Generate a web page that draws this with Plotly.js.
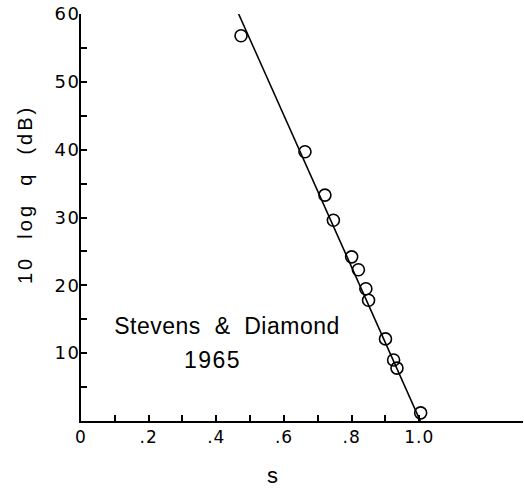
<!DOCTYPE html>
<html>
<head>
<meta charset="utf-8">
<script src="https://cdn.plot.ly/plotly-3.0.1.min.js"></script>
<style>
html,body{margin:0;padding:0;background:#fff;}
#chart{width:524px;height:491px;}
#chart .xtick text{letter-spacing:1px;}
#chart .ytick text{letter-spacing:1.5px;}
</style>
</head>
<body>
<div id="chart"></div>
<script>
// Data (Stevens & Diamond 1965)
var sValues = [0.473, 0.662, 0.721, 0.746, 0.800, 0.820, 0.842, 0.850, 0.900, 0.924, 0.934, 1.004];
var dbValues = [56.8, 39.7, 33.3, 29.6, 24.2, 22.3, 19.5, 17.8, 12.1, 9.0, 7.8, 1.2];
// Fitted line end points
var fitS = [0.466, 1.003];
var fitDb = [60, 0];
// Tick values and labels
var xTickVals = [0, 0.1, 0.2, 0.3, 0.4, 0.5, 0.6, 0.7, 0.8, 0.9, 1.0];
var xTickText = ['0', '', '.2', '', '.4', '', '.6', '', '.8', '', '1.0'];
var yTickVals = [0, 5, 10, 15, 20, 25, 30, 35, 40, 45, 50, 55, 60];
var yTickText = ['', '', '10', '', '20', '', '30', '', '40', '', '50', '', '60'];
var labelLines = ['Stevens  &  Diamond', '1965'];
var labelX = [0.433, 0.389];
var labelY = [14.0, 9.0];
var labelSpacing = ['0.5px', '1.5px'];
var xTitle = 's';
var yTitle = '10\u00a0\u00a0log\u00a0\u00a0q\u00a0\u00a0(dB)';

var font = 'Liberation Sans, Arial, Helvetica, sans-serif';
var tickFont = 'DejaVu Sans, sans-serif';

var traces = [
  {x: fitS, y: fitDb, mode: 'lines', line: {color: '#000', width: 1.6}, hoverinfo: 'skip', cliponaxis: false},
  {x: sValues, y: dbValues, mode: 'markers', cliponaxis: false,
   marker: {symbol: 'circle-open', size: 12, color: '#000', line: {width: 1.6, color: '#000'}}}
];

var annotations = [];
var spacings = [];
for (var i = 0; i < labelLines.length; i++) {
  annotations.push({x: labelX[i], y: labelY[i], xref: 'x', yref: 'y', text: labelLines[i],
    showarrow: false, font: {family: font, size: 23, color: '#000'}});
  spacings.push(labelSpacing[i]);
}
annotations.push({x: (25 - 81) / 442, y: (421 - 195) / 407, xref: 'paper', yref: 'paper',
  text: yTitle, textangle: -90, xanchor: 'center', yanchor: 'middle',
  showarrow: false, font: {family: font, size: 20, color: '#000'}});
spacings.push('3px');
annotations.push({x: (272 - 81) / 442, y: (421 - 490) / 407, xref: 'paper', yref: 'paper',
  text: xTitle, xanchor: 'center', yanchor: 'bottom',
  showarrow: false, font: {family: font, size: 22, color: '#000'}});
spacings.push('0px');

var layout = {
  width: 524, height: 491,
  margin: {l: 81, r: 1, t: 14, b: 70},
  paper_bgcolor: '#fff', plot_bgcolor: '#fff',
  showlegend: false,
  font: {family: font, color: '#000'},
  xaxis: {
    range: [0, 1.3065], showgrid: false, zeroline: false,
    showline: true, linecolor: '#000', linewidth: 2,
    ticks: 'inside', ticklen: 6, tickwidth: 2, tickcolor: '#000',
    tickvals: xTickVals, ticktext: xTickText,
    tickfont: {family: tickFont, size: 17, color: '#000'}
  },
  yaxis: {
    range: [0, 60], showgrid: false, zeroline: false,
    showline: true, linecolor: '#000', linewidth: 2,
    ticks: 'inside', ticklen: 6, tickwidth: 2, tickcolor: '#000',
    tickvals: yTickVals, ticktext: yTickText, ticklabelstandoff: -5,
    tickfont: {family: tickFont, size: 18, color: '#000'}
  },
  annotations: annotations
};

Plotly.newPlot('chart', traces, layout, {displayModeBar: false, staticPlot: true}).then(function (gd) {
  var texts = gd.querySelectorAll('.annotation-text');
  for (var k = 0; k < texts.length && k < spacings.length; k++) {
    texts[k].style.letterSpacing = spacings[k];
  }
});
</script>
</body>
</html>
